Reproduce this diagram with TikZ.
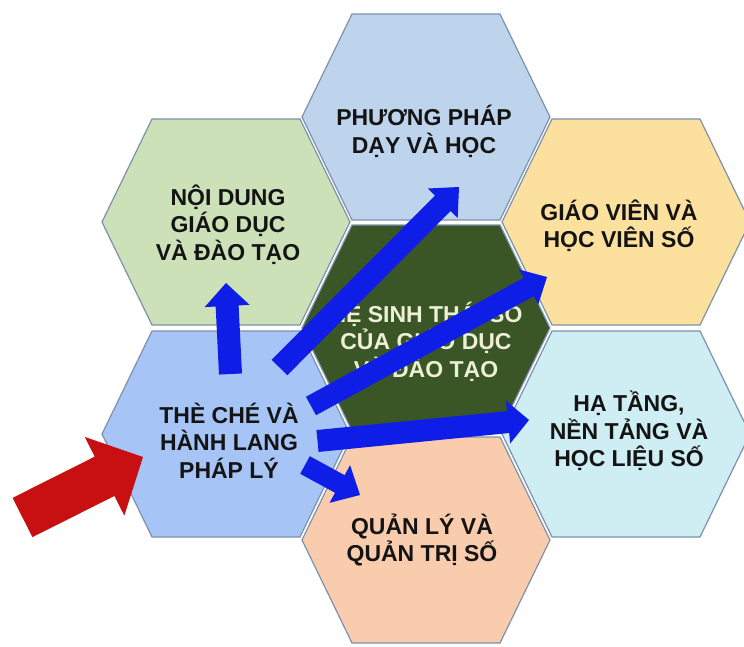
\documentclass[tikz,border=0pt]{standalone}
\usepackage{fontspec}
\setmainfont{Liberation Sans}
\usetikzlibrary{calc}
\definecolor{hexline}{RGB}{125,145,172}
\definecolor{cTop}{RGB}{190,212,236}
\definecolor{cGreen}{RGB}{205,225,184}
\definecolor{cOrange}{RGB}{252,224,158}
\definecolor{cCore}{RGB}{58,86,38}
\definecolor{cLaw}{RGB}{166,196,245}
\definecolor{cCyan}{RGB}{206,238,243}
\definecolor{cPeach}{RGB}{248,204,173}
\definecolor{cBlue}{RGB}{14,30,230}
\definecolor{cRed}{RGB}{200,16,18}
\definecolor{cCream}{RGB}{238,240,214}
\newcommand{\ts}{\rule{0pt}{1.05em}}
\newcommand{\bs}{\rule[-0.25em]{0pt}{0.25em}}
\newcommand{\hexagonat}[2]{\filldraw[hexcell, fill=#2, shift={(#1)}] (-124,0) -- (-74,-103) -- (74,-103) -- (124,0) -- (74,103) -- (-74,103) -- cycle;}
% tail, tip, half shaft, half head, head length, colour
\newcommand{\blockarrow}[6]{%
  \coordinate (#1-#2-h) at ($(#2)!#5!(#1)$);
  \fill[#6] ($(#1)!#3!90:(#2)$) -- ($(#1-#2-h)!#3!90:(#2)$) -- ($(#1-#2-h)!#4!90:(#2)$) -- (#2) -- ($(#1-#2-h)!#4!-90:(#2)$) -- ($(#1-#2-h)!#3!-90:(#2)$) -- ($(#1)!#3!-90:(#2)$) -- cycle;}
\tikzset{
  hexcell/.style={draw=hexline, line width=1.2pt, line join=miter},
  lbl/.style={font=\bfseries\fontsize{23}{27.5}\selectfont, align=center, inner sep=0pt, text=black!92},
  corelbl/.style={lbl, text=cCream},
}
\begin{document}
\begin{tikzpicture}[x=1pt, y=-1pt]
\useasboundingbox (0,0) rectangle (744,647);
\fill[white] (0,0) rectangle (744,647);
% hexagon centres
\coordinate (hTop) at (426,117);
\coordinate (hGreen) at (226,222);
\coordinate (hOrange) at (626,222);
\coordinate (hCore) at (426,328);
\coordinate (hLaw) at (226,434);
\coordinate (hCyan) at (626,434);
\coordinate (hPeach) at (426,540);
\hexagonat{hTop}{cTop}
\hexagonat{hGreen}{cGreen}
\hexagonat{hOrange}{cOrange}
\hexagonat{hCore}{cCore}
\hexagonat{hLaw}{cLaw}
\hexagonat{hCyan}{cCyan}
\hexagonat{hPeach}{cPeach}
% labels
\node[lbl] (tTop) at (424,130.5) {\ts PHƯƠNG PHÁP\\DẠY VÀ HỌC\bs};
\node[lbl] (tGreen) at (228,223.5) {\ts NỘI DUNG\\GIÁO DỤC\\VÀ ĐÀO TẠO\bs};
\node[lbl] (tOrange) at (619,225) {\ts GIÁO VIÊN VÀ\\HỌC VIÊN SỐ\bs};
\node[corelbl] (tCore) at (426,340.5) {\ts HỆ SINH THÁI SỐ\\CỦA GIÁO DỤC\\VÀ ĐÀO TẠO\bs};
\node[lbl] (tLaw) at (229,441.5) {\ts THÈ CHÉ VÀ\\HÀNH LANG\\PHÁP LÝ\bs};
\node[lbl] (tCyan) at (629,430) {\ts HẠ TẦNG,\\NỀN TẢNG VÀ\\HỌC LIỆU SỐ\bs};
\node[lbl] (tPeach) at (422,539) {\ts QUẢN LÝ VÀ\\QUẢN TRỊ SỐ\bs};
% arrow end points
\coordinate (a1t) at (230.5,374);  \coordinate (a1h) at (226,283);
\coordinate (a2t) at (279.5,367.5); \coordinate (a2h) at (459,187);
\coordinate (a3t) at (311,406);    \coordinate (a3h) at (547,277);
\coordinate (a4t) at (317.5,441);  \coordinate (a4h) at (529,420);
\coordinate (a5t) at (305,465);    \coordinate (a5h) at (360,495);
\coordinate (r0) at (22.5,517.5);  \coordinate (r1) at (143,457);
\blockarrow{a1t}{a1h}{11.5pt}{22.5pt}{23pt}{cBlue}
\blockarrow{a2t}{a2h}{11pt}{21pt}{23pt}{cBlue}
\blockarrow{a3t}{a3h}{10.5pt}{20pt}{21pt}{cBlue}
\blockarrow{a4t}{a4h}{11pt}{21.5pt}{21pt}{cBlue}
\blockarrow{a5t}{a5h}{10pt}{21.5pt}{23pt}{cBlue}
\blockarrow{r0}{r1}{22pt}{44pt}{43pt}{cRed}
\end{tikzpicture}
\end{document}
